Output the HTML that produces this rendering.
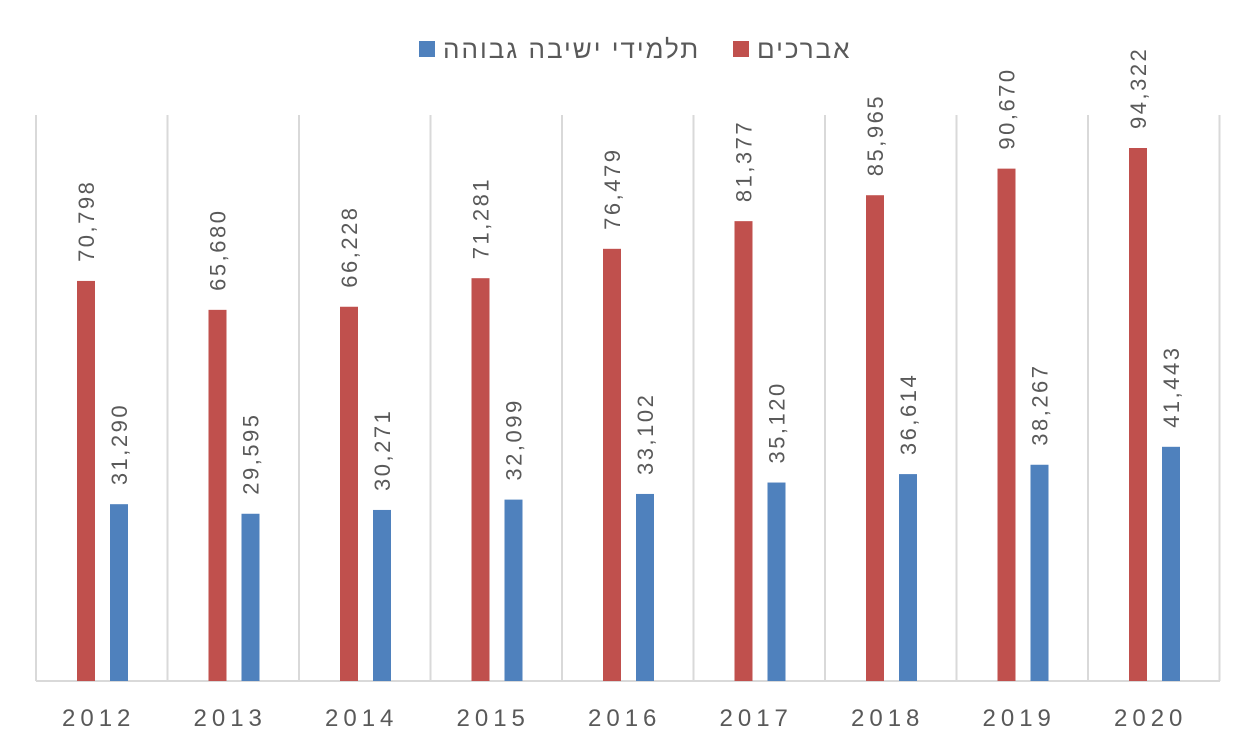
<!DOCTYPE html>
<html><head><meta charset="utf-8"><style>
html,body{margin:0;padding:0;background:#fff;}
svg{display:block;font-family:"Liberation Sans",Arial,sans-serif;}
</style></head><body>
<svg width="1257" height="754" viewBox="0 0 1257 754" xmlns="http://www.w3.org/2000/svg">
<rect width="1257" height="754" fill="#fff"/>
<g stroke="#d9d9d9" stroke-width="2">
<line x1="36" y1="115" x2="36" y2="681"/>
<line x1="167.5" y1="115" x2="167.5" y2="681"/>
<line x1="299" y1="115" x2="299" y2="681"/>
<line x1="430.5" y1="115" x2="430.5" y2="681"/>
<line x1="562" y1="115" x2="562" y2="681"/>
<line x1="693.5" y1="115" x2="693.5" y2="681"/>
<line x1="825" y1="115" x2="825" y2="681"/>
<line x1="956.5" y1="115" x2="956.5" y2="681"/>
<line x1="1088" y1="115" x2="1088" y2="681"/>
<line x1="1219.5" y1="115" x2="1219.5" y2="681"/>
<line x1="36" y1="681" x2="1220" y2="681"/>
</g>
<g id="bars"></g>
<g id="labels" fill="#595959" font-size="22" letter-spacing="2.5"></g>
<g fill="#595959" font-size="24" letter-spacing="5" id="years"></g>
<rect x="419" y="41" width="16" height="16" fill="#4f81bd"/>
<text x="443" y="58" font-size="26" letter-spacing="2" fill="#595959" direction="rtl" text-anchor="end" font-family="Liberation Sans, DejaVu Sans, sans-serif">תלמידי ישיבה גבוהה</text>
<rect x="733" y="41" width="16" height="16" fill="#c0504d"/>
<text x="757" y="58" font-size="26" letter-spacing="2" fill="#595959" direction="rtl" text-anchor="end" font-family="Liberation Sans, DejaVu Sans, sans-serif">אברכים</text>
<script>
var red=[70798,65680,66228,71281,76479,81377,85965,90670,94322];
var blue=[31290,29595,30271,32099,33102,35120,36614,38267,41443];
var k=533/94322, b=681, ns="http://www.w3.org/2000/svg";
var gb=document.getElementById('bars'),gl=document.getElementById('labels'),gy=document.getElementById('years');
function fmt(v){return v.toString().replace(/\B(?=(\d{3})+(?!\d))/g,",");}
function add(p,tag,a,t){var e=document.createElementNS(ns,tag);for(var n in a)e.setAttribute(n,a[n]);if(t)e.textContent=t;p.appendChild(e);}
for(var i=0;i<9;i++){
 var c=36+131.5*i;
 [[red[i],c+41,'#c0504d'],[blue[i],c+74,'#4f81bd']].forEach(function(d){
  var h=d[0]*k, top=b-h;
  add(gb,'rect',{x:d[1],y:top,width:18,height:h,fill:d[2]});
  var cx=d[1]+9+8, cy=top-19;
  add(gl,'text',{x:cx,y:cy,transform:'rotate(-90 '+cx+' '+cy+')'},fmt(d[0]));
 });
 add(gy,'text',{x:c+26,y:726},String(2012+i));
}
</script>
</svg>
</body></html>
